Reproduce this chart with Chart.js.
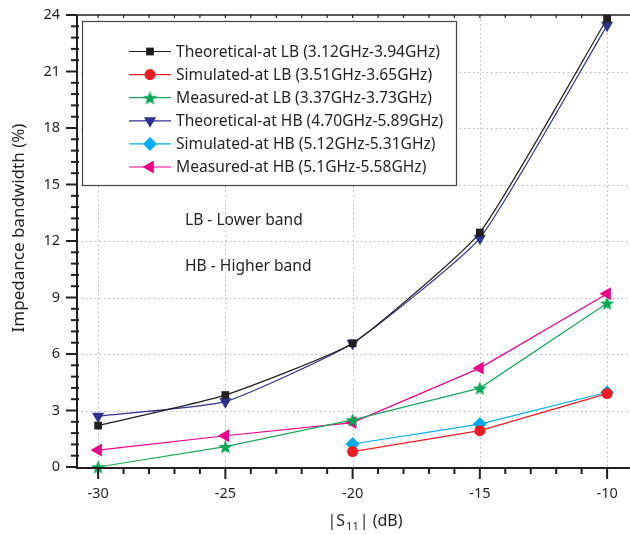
<!DOCTYPE html>
<html>
<head>
<meta charset="utf-8">
<script src="https://cdn.jsdelivr.net/npm/chart.js@4.4.1/dist/chart.umd.min.js"></script>
<style>
html,body{margin:0;padding:0;background:#fff;}
#wrap{width:630px;height:535px;position:relative;}
</style>
</head>
<body>
<div id="wrap"><canvas id="c" width="630" height="535"></canvas></div>
<script>
// ---- data ----
const xValues = [-30, -25, -20, -15, -10];
const xTickValues = [-30, -25, -20, -15, -10];
const yTickValues = [0, 3, 6, 9, 12, 15, 18, 21, 24];
const theoreticalLB = [2.2, 3.82, 6.57, 12.45, 23.8];
const simulatedLB   = [null, null, 0.82, 1.93, 3.9];
const measuredLB    = [0, 1.08, 2.5, 4.19, 8.7];
const theoreticalHB = [2.7, 3.47, 6.57, 12.15, 23.45];
const simulatedHB   = [null, null, 1.22, 2.28, 3.97];
const measuredHB    = [0.9, 1.66, 2.36, 5.25, 9.2];
const seriesLabels = [
  'Theoretical-at LB (3.12GHz-3.94GHz)',
  'Simulated-at LB (3.51GHz-3.65GHz)',
  'Measured-at LB (3.37GHz-3.73GHz)',
  'Theoretical-at HB (4.70GHz-5.89GHz)',
  'Simulated-at HB (5.12GHz-5.31GHz)',
  'Measured-at HB (5.1GHz-5.58GHz)'
];
const noteLines = ['LB - Lower band', 'HB - Higher band'];
const xTitleParts = ['|S', '11', '| (dB)'];
const yTitle = 'Impedance bandwidth (%)';

const FONT = '"Noto Sans", "Open Sans", sans-serif';
const INK = '#231f20';

function pts(arr){ return xValues.map((x,i)=>({x:x,y:arr[i]})).filter(p=>p.y!==null); }

// filled star marker
function starImage(color, r){
  const c = document.createElement('canvas');
  const s = Math.ceil(r*2+2);
  c.width = s; c.height = s;
  const g = c.getContext('2d');
  g.beginPath();
  for(let i=0;i<10;i++){
    const rad = i%2===0 ? r : r*0.42;
    const a = -Math.PI/2 + i*Math.PI/5;
    const px = s/2 + rad*Math.cos(a), py = s/2 + rad*Math.sin(a) + r*0.1;
    if(i===0) g.moveTo(px,py); else g.lineTo(px,py);
  }
  g.closePath();
  g.fillStyle = color; g.fill();
  return c;
}
const star = starImage('#00a651', 7.5);

const datasets = [
  {label:seriesLabels[0], data:pts(theoreticalLB), borderColor:INK, backgroundColor:INK,
   pointStyle:'rect', pointRadius:5.5, rotation:0, tension:0.15},
  {label:seriesLabels[1], data:pts(simulatedLB), borderColor:'#ed1c24', backgroundColor:'#ed1c24',
   pointStyle:'circle', pointRadius:5.5, rotation:0, tension:0},
  {label:seriesLabels[2], data:pts(measuredLB), borderColor:'#1aa95a', backgroundColor:'#00a651',
   pointStyle:star, pointRadius:7, rotation:0, tension:0},
  {label:seriesLabels[3], data:pts(theoreticalHB), borderColor:'#2e3192', backgroundColor:'#2e3192',
   pointStyle:'triangle', pointRadius:7, rotation:180, tension:0.15},
  {label:seriesLabels[4], data:pts(simulatedHB), borderColor:'#00aeef', backgroundColor:'#00aeef',
   pointStyle:'rectRot', pointRadius:7, rotation:0, tension:0},
  {label:seriesLabels[5], data:pts(measuredHB), borderColor:'#ec008c', backgroundColor:'#ec008c',
   pointStyle:'triangle', pointRadius:7.5, rotation:-90, tension:0}
].map(d=>Object.assign(d,{borderWidth:1.2, pointBorderWidth:0, pointBorderColor:d.backgroundColor,
   pointHoverRadius:d.pointRadius, fill:false, clip:false, spanGaps:false}));

const decor = {
  id:'decor',
  beforeDatasetsDraw(chart){
    const ctx = chart.ctx, a = chart.chartArea, xs = chart.scales.x, ys = chart.scales.y;
    ctx.save();
    ctx.strokeStyle = '#b8b8b8'; ctx.lineWidth = 1; ctx.setLineDash([1.5,3]);
    xTickValues.forEach(v=>{ const px = Math.round(xs.getPixelForValue(v))+0.5;
      ctx.beginPath(); ctx.moveTo(px,a.top); ctx.lineTo(px,a.bottom); ctx.stroke(); });
    yTickValues.forEach(v=>{ if(v===0||v===24) return; const py = Math.round(ys.getPixelForValue(v))+0.5;
      ctx.beginPath(); ctx.moveTo(a.left,py); ctx.lineTo(a.right,py); ctx.stroke(); });
    ctx.restore();
  },
  afterDatasetsDraw(chart){
    const ctx = chart.ctx, a = chart.chartArea, xs = chart.scales.x, ys = chart.scales.y;
    ctx.save();
    // legend box
    const bx = 82, by = 21, bw = 374, bh = 164;
    ctx.fillStyle = '#fff'; ctx.fillRect(bx,by,bw,bh);
    ctx.strokeStyle = '#444'; ctx.lineWidth = 1.2; ctx.strokeRect(bx+0.5,by+0.5,bw,bh);
    ctx.font = '15.6px ' + FONT; ctx.textBaseline = 'middle'; ctx.textAlign = 'left';
    chart.data.datasets.forEach((d,i)=>{
      const cy = 51.5 + i*23.1;
      ctx.strokeStyle = d.borderColor; ctx.lineWidth = 1.2;
      ctx.beginPath(); ctx.moveTo(129,cy); ctx.lineTo(171,cy); ctx.stroke();
      ctx.fillStyle = d.backgroundColor; ctx.strokeStyle = d.backgroundColor;
      Chart.helpers.drawPoint(ctx,{pointStyle:d.pointStyle, rotation:d.rotation, radius:d.pointRadius, borderWidth:0}, 150, cy);
      ctx.fillStyle = INK; ctx.fillText(d.label, 176, cy+1);
    });
    // notes
    ctx.fillStyle = INK; ctx.font = '15.6px ' + FONT;
    ctx.fillText(noteLines[0], 185, 221);
    ctx.fillText(noteLines[1], 185, 267);
    // axes lines
    ctx.strokeStyle = INK; ctx.lineWidth = 2;
    ctx.beginPath(); ctx.moveTo(a.left, a.top); ctx.lineTo(a.left, a.bottom+1); ctx.lineTo(a.right, a.bottom+1); ctx.stroke();
    ctx.lineWidth = 1.6;
    ctx.beginPath(); ctx.moveTo(a.left, a.top); ctx.lineTo(a.right, a.top); ctx.stroke();
    // x ticks
    for(let v=-30; v<=-9; v+=1){
      const px = xs.getPixelForValue(v);
      if(px>a.right) break;
      const major = (v % 5 === 0);
      ctx.lineWidth = 2;
      ctx.beginPath(); ctx.moveTo(px, a.bottom); ctx.lineTo(px, a.bottom + (major?12:7)); ctx.stroke();
      ctx.lineWidth = 1.2;
      ctx.beginPath(); ctx.moveTo(px, a.top); ctx.lineTo(px, a.top + 3); ctx.stroke();
    }
    // y ticks
    ctx.lineWidth = 2;
    for(let k=0; k<=40; k++){
      const v = k*0.6;
      const py = ys.getPixelForValue(v);
      const major = (k % 5 === 0);
      ctx.beginPath(); ctx.moveTo(a.left - (major?11:6), py); ctx.lineTo(a.left+ (major?0:2), py); ctx.stroke();
    }
    // titles
    ctx.fillStyle = INK; ctx.textBaseline = 'alphabetic';
    ctx.font = '16px ' + FONT;
    const w0 = ctx.measureText(xTitleParts[0]).width;
    ctx.font = '11px ' + FONT;
    const w1 = ctx.measureText(xTitleParts[1]).width;
    ctx.font = '16px ' + FONT;
    const w2 = ctx.measureText(xTitleParts[2]).width;
    let tx = 364 - (w0+w1+w2)/2, ty = 526;
    ctx.fillText(xTitleParts[0], tx, ty); tx += w0 + 1;
    ctx.font = '11px ' + FONT; ctx.fillText(xTitleParts[1], tx, ty+4); tx += w1 + 1;
    ctx.font = '16px ' + FONT; ctx.fillText(xTitleParts[2], tx, ty);
    ctx.save();
    ctx.translate(24, 228); ctx.rotate(-Math.PI/2);
    ctx.textAlign = 'center'; ctx.font = '17px ' + FONT;
    ctx.fillText(yTitle, 0, 0);
    ctx.restore();
    ctx.restore();
  }
};

new Chart(document.getElementById('c'), {
  type:'line',
  data:{datasets:datasets},
  options:{
    responsive:false, animation:false, devicePixelRatio:1,
    layout:{autoPadding:false, padding:{top:15,right:0,left:0,bottom:0}},
    plugins:{legend:{display:false}, tooltip:{enabled:false}},
    scales:{
      x:{type:'linear', min:-30.83, max:-9.1,
        afterBuildTicks:s=>{ s.ticks = xTickValues.map(v=>({value:v})); },
        afterFit:s=>{ s.height = 68; s.paddingLeft = 0; s.paddingRight = 0; },
        grid:{display:false, drawTicks:false}, border:{display:false},
        ticks:{color:INK, font:{family:FONT, size:14.5}, padding:18, maxRotation:0, autoSkip:false}},
      y:{type:'linear', min:0, max:24,
        afterBuildTicks:s=>{ s.ticks = yTickValues.map(v=>({value:v})); },
        afterFit:s=>{ s.width = 77; s.paddingTop = 0; s.paddingBottom = 0; },
        grid:{display:false, drawTicks:false}, border:{display:false},
        ticks:{color:INK, font:{family:FONT, size:14.5}, padding:17}}
    }
  },
  plugins:[decor]
});
</script>
</body>
</html>
